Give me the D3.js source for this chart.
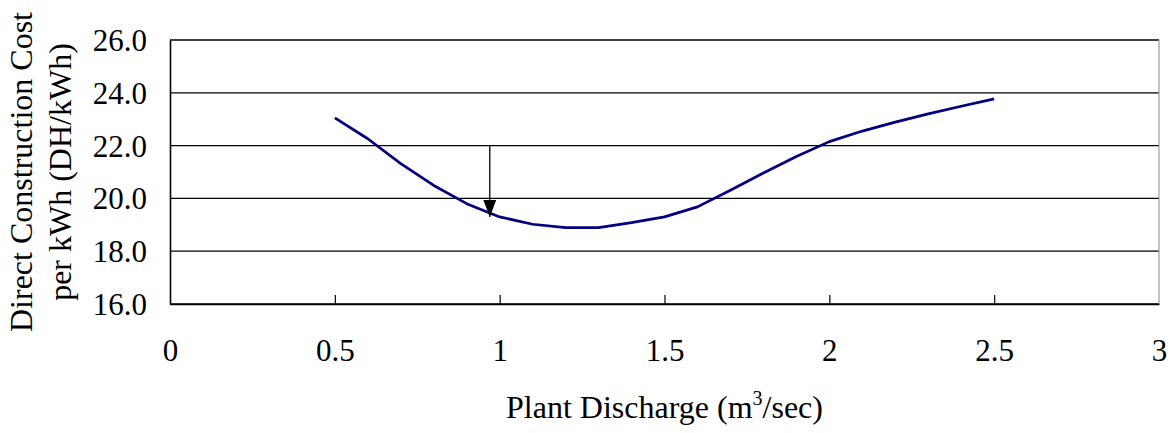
<!DOCTYPE html>
<html>
<head>
<meta charset="utf-8">
<script src="https://cdn.jsdelivr.net/npm/d3@7"></script>
<style>
  html, body { margin: 0; padding: 0; background: #fff; }
  svg text { font-family: "Liberation Serif", Tinos, "Times New Roman", Times, "DejaVu Serif", serif; fill: #000; }
</style>
</head>
<body>
<svg id="chart" width="1171" height="433"></svg>
<script>
// Plant discharge (m3/sec) and direct construction cost per kWh (DH/kWh)
const discharge = [0.5, 0.6, 0.7, 0.8, 0.9, 1.0, 1.1, 1.2, 1.3, 1.4, 1.5,
                   1.6, 1.7, 1.8, 1.9, 2.0, 2.1, 2.2, 2.3, 2.4, 2.5];
const costPerKWh = [23.05, 22.26, 21.32, 20.49, 19.80, 19.30, 19.02, 18.89, 18.89, 19.08, 19.30,
                    19.68, 20.31, 20.96, 21.59, 22.15, 22.55, 22.89, 23.20, 23.49, 23.77];

// Optimum marker: arrow dropping onto the curve
const optimumX = [0.97];
const optimumFrom = [22.0];
const optimumTo = [19.3];

const xTicks = [0, 0.5, 1, 1.5, 2, 2.5, 3];
const yTicks = [16, 18, 20, 22, 24, 26];

const xTitle = "Plant Discharge (m";
const xTitleSup = "3";
const xTitleEnd = "/sec)";
const yTitleLines = ["Direct Construction Cost", "per kWh (DH/kWh)"];

const FONT = '"Liberation Serif", Tinos, "Times New Roman", Times, "DejaVu Serif", serif';

const svg = d3.select("#chart");
const plotLeft = 170, plotRight = 1159, plotTop = 40, plotBottom = 304;

const x = d3.scaleLinear().domain([0, 3]).range([plotLeft, plotRight]);
const y = d3.scaleLinear().domain([16, 26]).range([plotBottom, plotTop]);

// Horizontal gridlines
svg.append("g")
  .selectAll("line")
  .data(yTicks)
  .join("line")
  .attr("x1", plotLeft).attr("x2", plotRight)
  .attr("y1", d => y(d)).attr("y2", d => y(d))
  .attr("stroke", "#000").attr("stroke-width", 1.3);

// Right plot border (light)
svg.append("line")
  .attr("x1", plotRight).attr("x2", plotRight)
  .attr("y1", plotTop).attr("y2", plotBottom)
  .attr("stroke", "#999").attr("stroke-width", 1.2);

// Y axis
const yAxis = svg.append("g")
  .attr("transform", `translate(${plotLeft},0)`)
  .call(d3.axisLeft(y).tickValues(yTicks).tickFormat(d3.format(".1f")).tickSize(0).tickPadding(23));
yAxis.attr("font-family", FONT).attr("font-size", 31);
yAxis.select(".domain").attr("stroke", "#000").attr("stroke-width", 1.6);
yAxis.selectAll("text")
  .style("font-size", "31px")
  .style("font-family", FONT)
  .attr("dy", "0.34em");

// X axis, ticks pointing into the plot
const xAxis = svg.append("g")
  .attr("transform", `translate(0,${plotBottom})`)
  .call(d3.axisBottom(x).tickValues(xTicks).tickFormat(d => String(d)).tickSizeInner(-9).tickSizeOuter(0).tickPadding(35));
xAxis.attr("font-family", FONT).attr("font-size", 31);
xAxis.select(".domain").attr("stroke", "#000").attr("stroke-width", 1.6);
xAxis.selectAll(".tick line").attr("stroke", "#000").attr("stroke-width", 1.2)
  .filter(d => d === 0 || d === 3).remove();
xAxis.selectAll("text")
  .style("font-size", "31px")
  .style("font-family", FONT)
  .attr("dy", "0.71em");

// Cost curve
const line = d3.line()
  .x((d, i) => x(discharge[i]))
  .y(d => y(d));
svg.append("path")
  .datum(costPerKWh)
  .attr("d", line)
  .attr("fill", "none")
  .attr("stroke", "#000080")
  .attr("stroke-width", 2.7)
  .attr("stroke-linejoin", "round");

// Optimum arrow
svg.append("defs").append("marker")
  .attr("id", "arrowhead")
  .attr("viewBox", "0 0 13 17")
  .attr("refX", 6.5).attr("refY", 17)
  .attr("markerWidth", 13).attr("markerHeight", 17)
  .attr("markerUnits", "userSpaceOnUse")
  .attr("orient", "0")
  .append("path")
  .attr("d", "M0,0 L13,0 L6.5,17 Z")
  .attr("fill", "#000");

svg.append("g")
  .selectAll("line")
  .data(optimumX)
  .join("line")
  .attr("x1", d => x(d)).attr("x2", d => x(d))
  .attr("y1", (d, i) => y(optimumFrom[i]))
  .attr("y2", (d, i) => y(optimumTo[i]))
  .attr("stroke", "#000").attr("stroke-width", 1.3)
  .attr("marker-end", "url(#arrowhead)");

// X axis title with superscript
const xt = svg.append("text")
  .attr("x", (plotLeft + plotRight) / 2)
  .attr("y", 418)
  .attr("text-anchor", "middle")
  .style("font-family", FONT)
  .style("font-size", "32px");
xt.append("tspan").text(xTitle);
xt.append("tspan").style("font-size", "20px").attr("dy", -13).text(xTitleSup);
xt.append("tspan").attr("dy", 13).text(xTitleEnd);

// Y axis title, two rotated lines
const yt = svg.append("text")
  .attr("transform", `translate(32,${(plotTop + plotBottom) / 2}) rotate(-90)`)
  .attr("text-anchor", "middle")
  .style("font-family", FONT)
  .style("font-size", "32px");
yt.selectAll("tspan")
  .data(yTitleLines)
  .join("tspan")
  .attr("x", 0)
  .attr("dy", (d, i) => i === 0 ? 0 : 39)
  .text(d => d);
</script>
</body>
</html>
